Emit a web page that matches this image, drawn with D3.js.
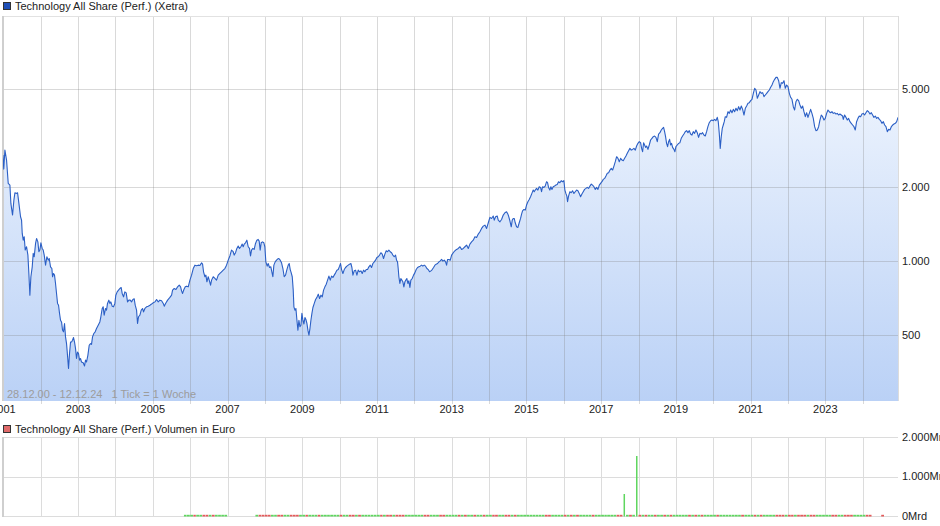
<!DOCTYPE html>
<html><head><meta charset="utf-8">
<script src="https://cdn.jsdelivr.net/npm/d3@7"></script>
<style>
html,body{margin:0;padding:0;background:#fff;}
svg{display:block;font-family:"Liberation Sans",Arial,sans-serif;}
</style></head><body>
<svg id="c" width="940" height="526"></svg>
<script>
// ---------- DATA ----------
const titleMain = "Technology All Share (Perf.) (Xetra)";
const titleVol = "Technology All Share (Perf.) Volumen in Euro";
const rangeNote = "28.12.00 - 12.12.24   1 Tick = 1 Woche";
const periodStart = [2000, 11, 28];
const periodEnd = [2024, 11, 12];

// [decimal year, index level]
const priceSeries = [
[2000.986,2700],[2001.010,2367],[2001.040,2828],[2001.084,2576],[2001.129,2070],[2001.174,2038],[2001.200,1716],[2001.245,1539],
[2001.281,1771],[2001.308,1897],[2001.352,1885],[2001.379,1897],[2001.415,1716],[2001.459,1515],[2001.486,1468],[2001.504,1296],
[2001.531,1217],[2001.557,1256],[2001.584,1109],[2001.620,1144],[2001.656,1058],[2001.682,891],[2001.709,727],[2001.736,864],
[2001.772,948],[2001.798,1075],[2001.825,1042],[2001.861,1180],[2001.888,1236],[2001.923,1198],[2001.950,1092],[2001.977,1109],
[2002.004,1187],[2002.039,1126],[2002.066,1109],[2002.093,1058],[2002.129,963],[2002.164,1042],[2002.200,1009],[2002.227,1025],
[2002.262,948],[2002.298,933],[2002.316,864],[2002.343,891],[2002.369,877],[2002.396,811],[2002.423,739],[2002.450,673],
[2002.477,662],[2002.503,613],[2002.530,575],[2002.557,566],[2002.584,524],[2002.610,516],[2002.637,558],[2002.664,492],
[2002.691,462],[2002.717,414],[2002.744,366],[2002.771,421],[2002.798,469],[2002.825,469],[2002.851,477],[2002.878,489],
[2002.905,469],[2002.932,441],[2002.958,402],[2002.985,427],[2003.012,421],[2003.039,396],[2003.065,402],[2003.092,389],
[2003.137,386],[2003.173,375],[2003.199,396],[2003.226,389],[2003.262,414],[2003.298,455],[2003.333,462],[2003.360,459],
[2003.387,492],[2003.422,508],[2003.458,516],[2003.494,532],[2003.539,549],[2003.583,566],[2003.610,594],[2003.646,642],
[2003.672,652],[2003.699,603],[2003.735,642],[2003.762,632],[2003.788,673],[2003.824,694],[2003.851,673],[2003.878,683],
[2003.913,656],[2003.949,652],[2003.985,673],[2004.011,727],[2004.047,750],[2004.083,762],[2004.119,774],[2004.154,781],
[2004.181,739],[2004.217,716],[2004.252,750],[2004.288,743],[2004.324,683],[2004.359,694],[2004.395,694],[2004.431,683],
[2004.467,698],[2004.502,703],[2004.529,662],[2004.565,632],[2004.591,558],[2004.618,594],[2004.654,603],[2004.690,632],
[2004.725,642],[2004.752,622],[2004.788,642],[2004.832,652],[2004.877,656],[2004.922,662],[2004.966,669],[2005.011,677],
[2005.056,683],[2005.100,698],[2005.145,683],[2005.189,694],[2005.234,690],[2005.279,673],[2005.305,656],[2005.341,673],
[2005.395,694],[2005.457,712],[2005.502,727],[2005.528,762],[2005.573,774],[2005.618,767],[2005.662,786],[2005.707,799],
[2005.743,786],[2005.769,757],[2005.796,739],[2005.832,767],[2005.868,786],[2005.903,791],[2005.948,786],[2005.993,837],
[2006.037,877],[2006.082,933],[2006.126,963],[2006.171,957],[2006.216,963],[2006.260,960],[2006.305,984],[2006.332,972],
[2006.358,905],[2006.394,864],[2006.421,877],[2006.448,824],[2006.483,864],[2006.510,837],[2006.546,799],[2006.573,837],
[2006.617,864],[2006.662,850],[2006.706,837],[2006.751,877],[2006.796,891],[2006.840,905],[2006.885,919],[2006.929,933],
[2006.974,963],[2007.019,1009],[2007.063,1049],[2007.107,1109],[2007.152,1092],[2007.179,1058],[2007.215,1082],[2007.250,1126],
[2007.286,1151],[2007.322,1126],[2007.357,1144],[2007.393,1173],[2007.420,1144],[2007.447,1173],[2007.482,1187],[2007.518,1217],
[2007.554,1144],[2007.589,1126],[2007.616,1049],[2007.643,1109],[2007.679,1126],[2007.714,1116],[2007.750,1180],[2007.786,1217],
[2007.821,1225],[2007.848,1206],[2007.875,1109],[2007.902,1187],[2007.937,1198],[2007.973,1187],[2008.000,1144],[2008.027,993],
[2008.062,954],[2008.089,978],[2008.125,942],[2008.160,948],[2008.187,905],[2008.214,864],[2008.241,963],[2008.276,993],
[2008.312,1009],[2008.348,1022],[2008.375,1025],[2008.410,1009],[2008.446,984],[2008.482,933],[2008.517,864],[2008.553,877],
[2008.589,924],[2008.624,963],[2008.651,978],[2008.678,924],[2008.705,896],[2008.732,864],[2008.758,762],[2008.776,652],
[2008.803,632],[2008.830,642],[2008.857,575],[2008.883,524],[2008.910,575],[2008.937,541],[2008.964,549],[2008.990,613],
[2009.017,575],[2009.044,555],[2009.071,590],[2009.097,579],[2009.124,558],[2009.151,524],[2009.178,500],[2009.205,532],
[2009.231,575],[2009.258,613],[2009.285,648],[2009.321,673],[2009.356,698],[2009.392,712],[2009.428,734],[2009.463,705],
[2009.499,727],[2009.535,716],[2009.570,762],[2009.606,786],[2009.642,806],[2009.677,837],[2009.713,869],[2009.749,837],
[2009.784,869],[2009.820,858],[2009.856,877],[2009.892,896],[2009.927,919],[2009.963,924],[2009.999,954],[2010.025,978],
[2010.052,924],[2010.088,891],[2010.124,924],[2010.159,942],[2010.195,954],[2010.231,963],[2010.266,972],[2010.302,978],
[2010.329,942],[2010.356,877],[2010.391,913],[2010.427,919],[2010.463,877],[2010.498,919],[2010.534,905],[2010.570,913],
[2010.605,891],[2010.641,919],[2010.677,905],[2010.713,924],[2010.748,924],[2010.784,948],[2010.820,963],[2010.855,942],
[2010.891,978],[2010.927,993],[2010.962,1009],[2010.998,1035],[2011.034,1042],[2011.069,1058],[2011.105,1082],[2011.141,1068],
[2011.176,1025],[2011.212,1068],[2011.248,1102],[2011.283,1092],[2011.319,1109],[2011.355,1092],[2011.391,1082],[2011.426,1058],
[2011.462,1042],[2011.498,1058],[2011.525,1009],[2011.551,993],[2011.569,933],[2011.587,864],[2011.614,811],[2011.640,850],
[2011.667,837],[2011.694,824],[2011.721,786],[2011.748,824],[2011.774,837],[2011.801,850],[2011.828,811],[2011.855,832],
[2011.882,781],[2011.908,837],[2011.944,850],[2011.980,877],[2012.015,896],[2012.051,924],[2012.087,942],[2012.122,948],
[2012.158,954],[2012.194,963],[2012.229,954],[2012.265,963],[2012.301,954],[2012.337,933],[2012.372,924],[2012.408,905],
[2012.444,913],[2012.479,924],[2012.515,942],[2012.551,963],[2012.586,972],[2012.622,978],[2012.658,993],[2012.693,1003],
[2012.729,1016],[2012.765,1000],[2012.801,1009],[2012.836,993],[2012.863,963],[2012.890,1016],[2012.926,1016],[2012.961,1009],
[2012.997,1058],[2013.041,1082],[2013.086,1102],[2013.130,1116],[2013.175,1126],[2013.220,1144],[2013.264,1116],[2013.309,1126],
[2013.354,1144],[2013.398,1162],[2013.443,1126],[2013.487,1173],[2013.532,1198],[2013.577,1217],[2013.621,1256],[2013.666,1248],
[2013.711,1288],[2013.755,1316],[2013.800,1358],[2013.844,1388],[2013.889,1401],[2013.934,1358],[2013.960,1401],[2013.996,1459],
[2014.023,1506],[2014.067,1491],[2014.112,1525],[2014.139,1468],[2014.175,1515],[2014.219,1525],[2014.246,1468],[2014.291,1445],
[2014.335,1477],[2014.380,1539],[2014.424,1573],[2014.469,1588],[2014.496,1563],[2014.523,1525],[2014.558,1459],[2014.594,1379],
[2014.621,1468],[2014.647,1491],[2014.674,1491],[2014.701,1432],[2014.737,1379],[2014.772,1371],[2014.808,1432],[2014.844,1491],
[2014.871,1553],[2014.897,1602],[2014.933,1622],[2014.969,1612],[2015.004,1690],[2015.040,1743],[2015.076,1782],[2015.111,1827],
[2015.147,1885],[2015.183,1945],[2015.210,1915],[2015.236,1945],[2015.272,1975],[2015.308,1945],[2015.343,2006],[2015.379,1994],
[2015.406,1915],[2015.433,2006],[2015.468,1994],[2015.504,2019],[2015.540,2103],[2015.567,2083],[2015.593,1994],[2015.629,1945],
[2015.656,2006],[2015.683,1957],[2015.718,2006],[2015.754,2019],[2015.790,2038],[2015.825,2051],[2015.861,2103],[2015.897,2083],
[2015.932,2123],[2015.968,2103],[2016.004,2123],[2016.031,1945],[2016.057,1885],[2016.084,1838],[2016.102,1743],[2016.129,1838],
[2016.164,1915],[2016.200,1897],[2016.236,1933],[2016.272,1885],[2016.307,1915],[2016.343,1945],[2016.379,1933],[2016.414,1885],
[2016.450,1827],[2016.486,1873],[2016.521,1915],[2016.557,1957],[2016.593,1975],[2016.628,1994],[2016.664,1975],[2016.700,2019],
[2016.736,2057],[2016.771,2038],[2016.807,2006],[2016.843,1957],[2016.878,1994],[2016.914,1957],[2016.950,2038],[2016.985,2070],
[2017.021,2103],[2017.057,2149],[2017.093,2169],[2017.128,2218],[2017.164,2274],[2017.200,2288],[2017.235,2346],[2017.271,2383],
[2017.307,2346],[2017.342,2435],[2017.378,2536],[2017.414,2658],[2017.450,2617],[2017.485,2536],[2017.521,2617],[2017.557,2576],
[2017.592,2560],[2017.628,2617],[2017.664,2675],[2017.699,2742],[2017.735,2810],[2017.771,2873],[2017.806,2828],[2017.842,2846],
[2017.878,2873],[2017.914,2828],[2017.949,2937],[2017.985,3011],[2018.021,3059],[2018.056,3030],[2018.083,2873],[2018.110,2785],
[2018.136,3030],[2018.163,2965],[2018.190,2900],[2018.217,2937],[2018.253,2846],[2018.288,2965],[2018.324,3107],[2018.360,3156],
[2018.395,3205],[2018.431,3225],[2018.467,3186],[2018.503,3059],[2018.538,3286],[2018.574,3328],[2018.610,3412],[2018.645,3466],
[2018.672,3498],[2018.699,3359],[2018.725,3205],[2018.752,3011],[2018.779,2919],[2018.806,3059],[2018.833,3126],[2018.859,2965],
[2018.886,3011],[2018.913,2900],[2018.949,2846],[2018.975,2785],[2019.002,2919],[2019.038,2965],[2019.074,3011],[2019.109,3030],
[2019.145,3156],[2019.181,3225],[2019.217,3286],[2019.252,3359],[2019.288,3391],[2019.324,3328],[2019.360,3391],[2019.395,3286],
[2019.431,3255],[2019.467,3359],[2019.502,3307],[2019.538,3412],[2019.574,3328],[2019.609,3186],[2019.645,3307],[2019.681,3286],
[2019.716,3328],[2019.752,3255],[2019.788,3225],[2019.824,3359],[2019.859,3520],[2019.895,3654],[2019.931,3722],[2019.966,3746],
[2020.002,3722],[2020.038,3770],[2020.073,3722],[2020.109,3841],[2020.136,3688],[2020.163,3307],[2020.189,2873],[2020.216,3205],
[2020.243,3466],[2020.270,3575],[2020.296,3688],[2020.323,3865],[2020.359,3841],[2020.395,4050],[2020.430,3987],[2020.466,4114],
[2020.502,4012],[2020.538,4140],[2020.573,4050],[2020.609,4180],[2020.645,4089],[2020.680,4245],[2020.716,4114],[2020.752,4272],
[2020.787,4140],[2020.823,3926],[2020.859,4180],[2020.894,4272],[2020.930,4381],[2020.966,4408],[2021.001,4491],[2021.037,4548],
[2021.073,4810],[2021.109,5041],[2021.144,4962],[2021.180,4591],[2021.216,4736],[2021.251,4886],[2021.287,4810],[2021.323,4840],
[2021.358,4663],[2021.394,4736],[2021.430,4810],[2021.465,4886],[2021.501,4962],[2021.537,5088],[2021.573,5201],[2021.608,5365],
[2021.644,5483],[2021.680,5587],[2021.715,5587],[2021.751,5415],[2021.787,5041],[2021.822,5315],[2021.858,5282],[2021.894,5415],
[2021.929,5041],[2021.965,5201],[2022.001,5120],[2022.037,4810],[2022.072,4634],[2022.108,4548],[2022.144,4245],[2022.179,4114],
[2022.215,4449],[2022.251,4548],[2022.286,4491],[2022.322,4312],[2022.358,4180],[2022.393,4272],[2022.429,4050],[2022.465,3865],
[2022.500,4012],[2022.536,3841],[2022.572,3987],[2022.608,4140],[2022.643,3987],[2022.679,3805],[2022.715,3520],[2022.750,3391],
[2022.786,3412],[2022.822,3520],[2022.857,3746],[2022.893,3926],[2022.929,3865],[2022.964,3746],[2022.999,3805],[2023.036,3987],
[2023.072,4114],[2023.107,4050],[2023.143,4012],[2023.179,4050],[2023.214,3987],[2023.250,4012],[2023.286,3962],[2023.321,3987],
[2023.357,3926],[2023.393,3962],[2023.429,3926],[2023.464,3889],[2023.482,3770],[2023.518,3926],[2023.554,3841],[2023.589,3746],
[2023.625,3805],[2023.661,3688],[2023.696,3631],[2023.732,3575],[2023.768,3520],[2023.803,3412],[2023.839,3688],[2023.875,3805],
[2023.910,3889],[2023.946,3865],[2023.982,3962],[2024.018,3987],[2024.053,3926],[2024.089,4012],[2024.125,4089],[2024.160,4050],
[2024.196,3962],[2024.232,4012],[2024.267,3926],[2024.303,3841],[2024.339,3889],[2024.374,3805],[2024.410,3841],[2024.446,3770],
[2024.482,3722],[2024.517,3631],[2024.553,3688],[2024.589,3575],[2024.624,3520],[2024.660,3359],[2024.696,3433],[2024.731,3412],
[2024.767,3520],[2024.803,3575],[2024.838,3609],[2024.874,3631],[2024.910,3688],[2024.946,3841]
];

const yTickValues = [500, 1000, 2000, 5000];
const yTickLabels = ["500", "1.000", "2.000", "5.000"];
const xLabelYears = [2001, 2003, 2005, 2007, 2009, 2011, 2013, 2015, 2017, 2019, 2021, 2023];

// monthly volume in Mrd Euro, first month Nov 2005, null = no data
const volFirstMonth = [2005, 10];
const volMonthly = [
12,12,
12,12,12,12,12,12,12,12,12,12,12,12,
null,null,null,null,null,null,null,null,null,12,12,12,
12,12,12,12,12,12,12,12,12,12,12,12,
12,12,12,12,12,12,12,12,12,12,12,12,
12,12,12,12,12,12,12,12,12,12,12,12,
12,12,12,12,12,12,12,12,12,12,12,12,
12,12,12,12,12,12,12,12,12,12,12,12,
12,12,12,12,12,12,12,12,12,12,12,12,
12,12,12,12,12,12,12,12,12,12,12,12,
12,12,12,12,12,12,12,12,12,12,12,12,
12,12,12,12,12,12,12,12,12,12,12,12,
12,12,12,12,12,12,12,557,12,12,12,1519,
12,12,12,12,12,12,12,12,12,12,12,12,
12,12,12,12,12,12,12,12,12,12,12,12,
12,12,12,12,12,12,12,12,12,12,12,12,
12,12,12,12,12,12,12,12,12,12,12,12,
12,12,12,12,12,12,12,12,12,12,12,12,
12,12,12,12,12,12,12,12,12,12,12,12,
12,12,12,null,null,null,12
];
const volTickValues = [0, 1000, 2000];
const volTickLabels = ["0Mrd", "1.000Mrd", "2.000Mrd"];

// ---------- DRAW ----------
const svg = d3.select("#c");
const defs = svg.append("defs");
const L = 3, R = 898, T = 16, B = 401;
const VT = 437, VB = 516;

const grad = defs.append("linearGradient").attr("id", "fillGrad")
  .attr("gradientUnits", "userSpaceOnUse").attr("x1", 0).attr("y1", T).attr("x2", 0).attr("y2", B);
grad.append("stop").attr("offset", "0%").attr("stop-color", "#f8fbff");
grad.append("stop").attr("offset", "100%").attr("stop-color", "#bad1f6");
defs.append("clipPath").attr("id", "clipMain").append("rect")
  .attr("x", L).attr("y", T).attr("width", R - L).attr("height", B - T);

const toDate = t => { const yr = Math.floor(t); const s = Date.UTC(yr, 0, 1), e = Date.UTC(yr + 1, 0, 1); return new Date(s + (t - yr) * (e - s)); };
const data = priceSeries.map(([t, v]) => ({ d: toDate(t), v }));

const x = d3.scaleUtc()
  .domain([new Date(Date.UTC(...periodStart)), new Date(Date.UTC(...periodEnd))])
  .range([L, R]);
const y = d3.scaleLog().domain([270, 9920]).range([B, T]);
const yv = d3.scaleLinear().domain([0, 2000]).range([VB, VT]);

const years = d3.utcYear.range(new Date(Date.UTC(2002, 0, 1)), new Date(Date.UTC(2025, 0, 1)));
const gridCol = "rgba(128,128,128,0.30)";

// area
svg.append("path").datum(data).attr("clip-path", "url(#clipMain)")
  .attr("fill", "url(#fillGrad)")
  .attr("d", d3.area().x(d => x(d.d)).y0(B).y1(d => y(d.v)));

// grid main
const gMain = svg.append("g").attr("shape-rendering", "crispEdges");
gMain.selectAll(".vg").data(years).join("line")
  .attr("x1", d => Math.round(x(d)) + 0.5).attr("x2", d => Math.round(x(d)) + 0.5)
  .attr("y1", T).attr("y2", B + 3).attr("stroke", gridCol);
gMain.selectAll(".hg").data(yTickValues).join("line")
  .attr("x1", L).attr("x2", R).attr("y1", d => Math.round(y(d)) + 0.5).attr("y2", d => Math.round(y(d)) + 0.5)
  .attr("stroke", gridCol);
gMain.append("line").attr("x1", L).attr("x2", R).attr("y1", T + 0.5).attr("y2", T + 0.5).attr("stroke", "#e2e2e2");
gMain.append("line").attr("x1", R + 0.5).attr("x2", R + 0.5).attr("y1", T).attr("y2", B).attr("stroke", "#dcdcdc");
gMain.append("line").attr("x1", L).attr("x2", L).attr("y1", T).attr("y2", B).attr("stroke", "#cfcfcf").attr("stroke-width", 2);

// line
svg.append("path").datum(data).attr("clip-path", "url(#clipMain)")
  .attr("fill", "none").attr("stroke", "#2b5fc5").attr("stroke-width", 1.1).attr("stroke-linejoin", "round")
  .attr("d", d3.line().x(d => x(d.d)).y(d => y(d.v)));

// note
svg.append("text").attr("x", 7).attr("y", 398).attr("font-size", 11).attr("fill", "#9c9c9c")
  .style("white-space", "pre").text(rangeNote);

// y labels
svg.append("g").selectAll("text").data(yTickValues).join("text")
  .attr("x", 902).attr("y", d => y(d)).attr("dy", "0.36em").attr("font-size", 11).attr("fill", "#222")
  .text((d, i) => yTickLabels[i]);

// x labels
svg.append("g").selectAll("text").data(xLabelYears).join("text")
  .attr("x", d => x(new Date(Date.UTC(d, 0, 1)))).attr("y", 413).attr("text-anchor", "middle")
  .attr("font-size", 11).attr("fill", "#222").text(d => d);

// legends
function legend(yTop, col, label) {
  svg.append("rect").attr("x", 3.5).attr("y", yTop).attr("width", 7).attr("height", 7)
    .attr("fill", col).attr("stroke", "#333").attr("stroke-width", 1);
  svg.append("text").attr("x", 15).attr("y", yTop + 7.5).attr("font-size", 11).attr("fill", "#222").text(label);
}
legend(2.5, "#1f50b8", titleMain);
legend(425.5, "#e06a6a", titleVol);

// volume panel grid
const gVol = svg.append("g").attr("shape-rendering", "crispEdges");
gVol.selectAll(".vg").data(years).join("line")
  .attr("x1", d => Math.round(x(d)) + 0.5).attr("x2", d => Math.round(x(d)) + 0.5)
  .attr("y1", VT).attr("y2", VB).attr("stroke", "#dcdcdc");
gVol.selectAll(".hg").data(volTickValues).join("line")
  .attr("x1", L).attr("x2", R).attr("y1", d => Math.round(yv(d)) + 0.5).attr("y2", d => Math.round(yv(d)) + 0.5)
  .attr("stroke", "#dcdcdc");
gVol.append("line").attr("x1", L).attr("x2", L).attr("y1", VT).attr("y2", VB + 1).attr("stroke", "#cfcfcf").attr("stroke-width", 2);

// volume bars (colour: price up or down over the month)
const bis = d3.bisector(d => d.d).left;
function priceAt(dt) { const i = Math.min(data.length - 1, Math.max(0, bis(data, dt))); return data[i].v; }
const vol = volMonthly.map((v, i) => {
  const s = new Date(Date.UTC(volFirstMonth[0], volFirstMonth[1] + i, 1));
  const e = new Date(Date.UTC(volFirstMonth[0], volFirstMonth[1] + i + 1, 1));
  const m = new Date(Date.UTC(volFirstMonth[0], volFirstMonth[1] + i, 15));
  return { s, e, m, v, up: priceAt(e) >= priceAt(s) };
}).filter(d => d.v != null);
svg.append("g").selectAll("rect").data(vol).join("rect")
  .attr("x", d => d.v > 100 ? x(d.m) - 0.75 : x(d.s))
  .attr("width", d => d.v > 100 ? 1.5 : Math.max(1, x(d.e) - x(d.s) - 0.4))
  .attr("y", d => Math.min(yv(d.v), VB - 1.2)).attr("height", d => Math.max(1.2, VB - yv(d.v)) + 0.5)
  .attr("fill", d => d.up ? "#5fd65f" : "#e35a5a");

svg.append("g").selectAll("text").data(volTickValues).join("text")
  .attr("x", 902).attr("y", d => yv(d)).attr("dy", "0.36em").attr("font-size", 11).attr("fill", "#222")
  .text((d, i) => volTickLabels[i]);
</script>
</body></html>
